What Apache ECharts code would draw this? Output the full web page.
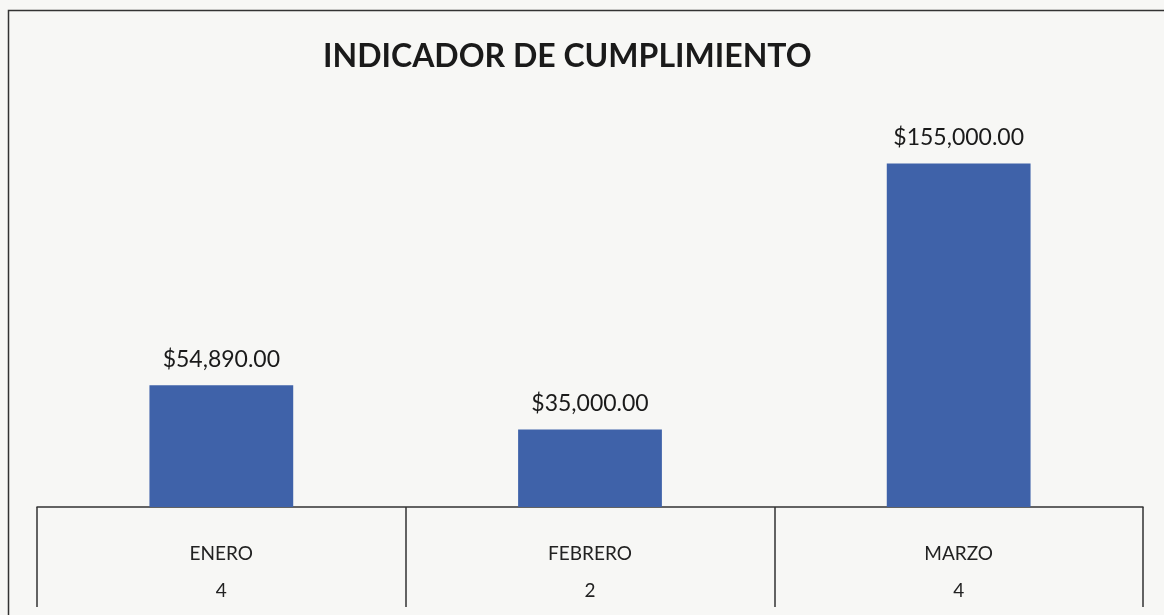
<!DOCTYPE html>
<html>
<head>
<meta charset="utf-8">
<script src="https://cdn.jsdelivr.net/npm/echarts@6/dist/echarts.min.js"></script>
<style>
  html, body { margin: 0; padding: 0; background: #f7f7f5; }
  #chart { width: 1164px; height: 615px; }
</style>
</head>
<body>
<div id="chart"></div>
<script>
// datos del indicador
var meses = ['ENERO', 'FEBRERO', 'MARZO'];
var montos = [54890, 35000, 155000];
var cantidades = [4, 2, 4];

var chart = echarts.init(document.getElementById('chart'));

function moneda(v) {
    return '$' + v.toLocaleString('en-US', { minimumFractionDigits: 2, maximumFractionDigits: 2 });
}

var option = {
    backgroundColor: '#f7f7f5',
    animation: false,
    title: {
        text: 'INDICADOR DE CUMPLIMIENTO',
        left: 318,
        top: 36,
        textStyle: { fontFamily: 'Lato', fontWeight: 'bold', fontSize: 32, color: '#1a1a1a' }
    },
    graphic: [{
        type: 'rect',
        shape: { x: 8.5, y: 10.5, width: 1200, height: 700 },
        style: { fill: 'none', stroke: '#333', lineWidth: 1.5 },
        silent: true
    }],
    grid: { left: 37, right: 21, top: 108, bottom: 108 },
    xAxis: {
        type: 'category',
        data: meses,
        axisLine: { show: true, lineStyle: { color: '#333', width: 1.5 } },
        axisTick: { show: true, interval: 0, length: 100, lineStyle: { color: '#333', width: 1.5 } },
        axisLabel: {
            margin: 28,
            fontFamily: 'Lato',
            fontSize: 19,
            lineHeight: 37,
            color: '#222',
            formatter: function (v, i) { return v + '\n' + cantidades[i]; }
        }
    },
    yAxis: {
        type: 'value',
        min: 0,
        max: 180000,
        show: false,
        splitLine: { show: false }
    },
    series: [{
        type: 'bar',
        data: montos,
        barWidth: '39%',
        itemStyle: { color: '#3f62a9' },
        label: {
            show: true,
            position: 'top',
            distance: 14,
            fontFamily: 'Lato',
            fontSize: 23,
            color: '#1a1a1a',
            formatter: function (p) { return moneda(p.value); }
        }
    }]
};

chart.setOption(option);
</script>
</body>
</html>
